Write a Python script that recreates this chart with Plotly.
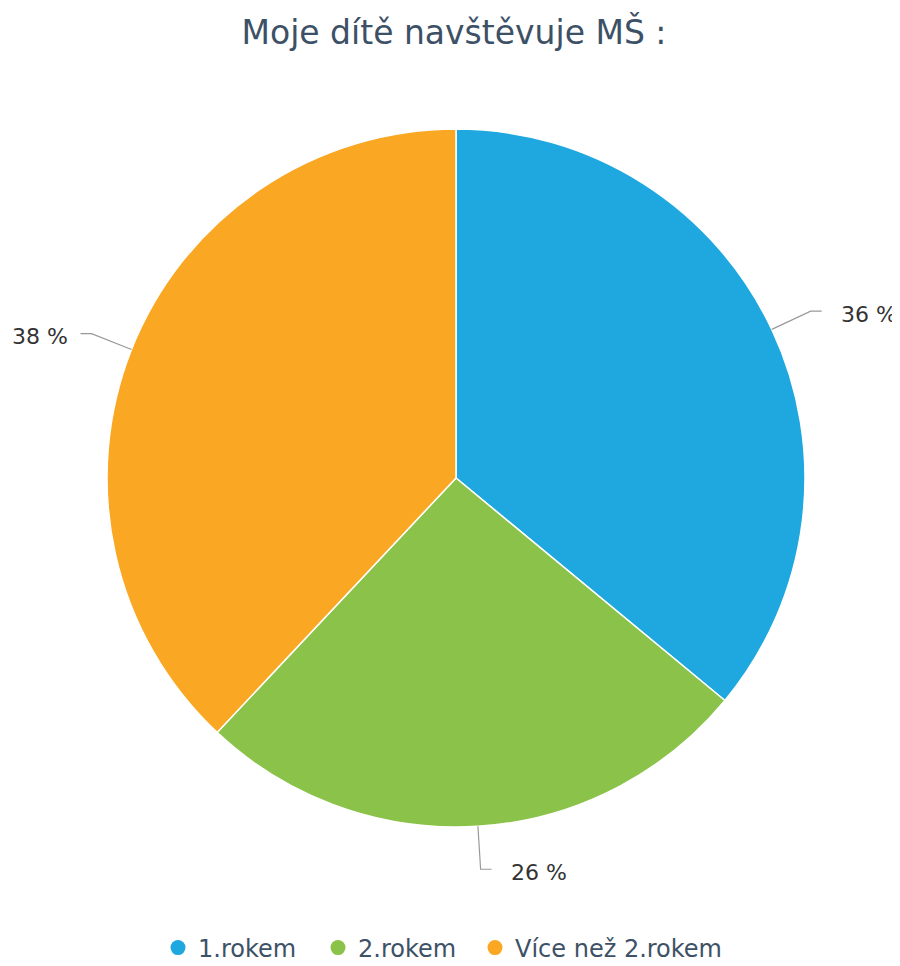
import math
import plotly.graph_objects as go

title_text = "Moje dítě navštěvuje MŠ :"
categories = ["1.rokem", "2.rokem", "Více než 2.rokem"]
values = [36, 26, 38]
colors = ["#1fa8e0", "#8bc34a", "#faa723"]

W, H = 900, 966
OFF = 8  # page body margin
CX, CY, R = 456, 478, 349
LABEL_R = R + 43
FONT = "DejaVu Sans"
legend_centers = [178, 338, 495]  # legend symbol positions (screen px)

def px(x):
    return (x - OFF) / W

def py(y):
    return 1 - (y - OFF) / H

fig = go.Figure()
fig.add_trace(go.Pie(
    labels=categories, values=values, sort=False, direction="clockwise", rotation=0,
    marker=dict(colors=colors, line=dict(color="white", width=1.5)),
    textinfo="none", hoverinfo="label+percent", showlegend=False,
    domain=dict(x=[px(CX - R), px(CX + R)], y=[py(CY + R), py(CY - R)]),
))

legend_layout = {}
for i, (name, col) in enumerate(zip(categories, colors)):
    lname = "legend" if i == 0 else f"legend{i + 1}"
    fig.add_trace(go.Scatter(x=[None], y=[None], mode="markers", name=name,
                             legend=lname,
                             marker=dict(symbol="circle", size=15, color=col)))
    legend_layout[lname] = dict(
        orientation="h", x=px(legend_centers[i] - 20), xanchor="left",
        y=py(948), yanchor="middle",
        font=dict(family=FONT, size=24, color="#3d5166"),
        itemsizing="trace", itemwidth=30, bgcolor="rgba(0,0,0,0)")

total = sum(values)
cum = 0
shapes, annotations = [], []
for v in values:
    mid = (cum + v / 2) / total * 2 * math.pi
    cum += v
    s, c = math.sin(mid), math.cos(mid)
    ex, ey = CX + R * s, CY - R * c
    bx, by = CX + LABEL_R * s, CY - LABEL_R * c
    sign = 1 if s >= 0 else -1
    hx = bx + sign * 11
    path = f"M {px(ex)} {py(ey)} L {px(bx)} {py(by)} L {px(hx)} {py(by)}"
    shapes.append(dict(type="path", path=path, xref="paper", yref="paper",
                       line=dict(color="#999999", width=1.2)))
    pct = round(v / total * 100)
    annotations.append(dict(
        x=px(bx + sign * (28 if sign > 0 else 22)), y=py(by + 3), xref="paper", yref="paper",
        text=f"{pct} %", showarrow=False,
        xanchor="left" if sign > 0 else "right", yanchor="middle",
        font=dict(family=FONT, size=22, color="#333333")))

fig.update_layout(
    width=W, height=H,
    margin=dict(l=0, r=0, t=0, b=0),
    paper_bgcolor="white", plot_bgcolor="white",
    title=dict(text=title_text, x=px(454), xanchor="center", y=py(32), yanchor="middle",
               font=dict(family=FONT, size=33, color="#3d5166")),
    xaxis=dict(visible=False), yaxis=dict(visible=False),
    shapes=shapes, annotations=annotations,
    **legend_layout,
)

fig.write_html("out.html")
